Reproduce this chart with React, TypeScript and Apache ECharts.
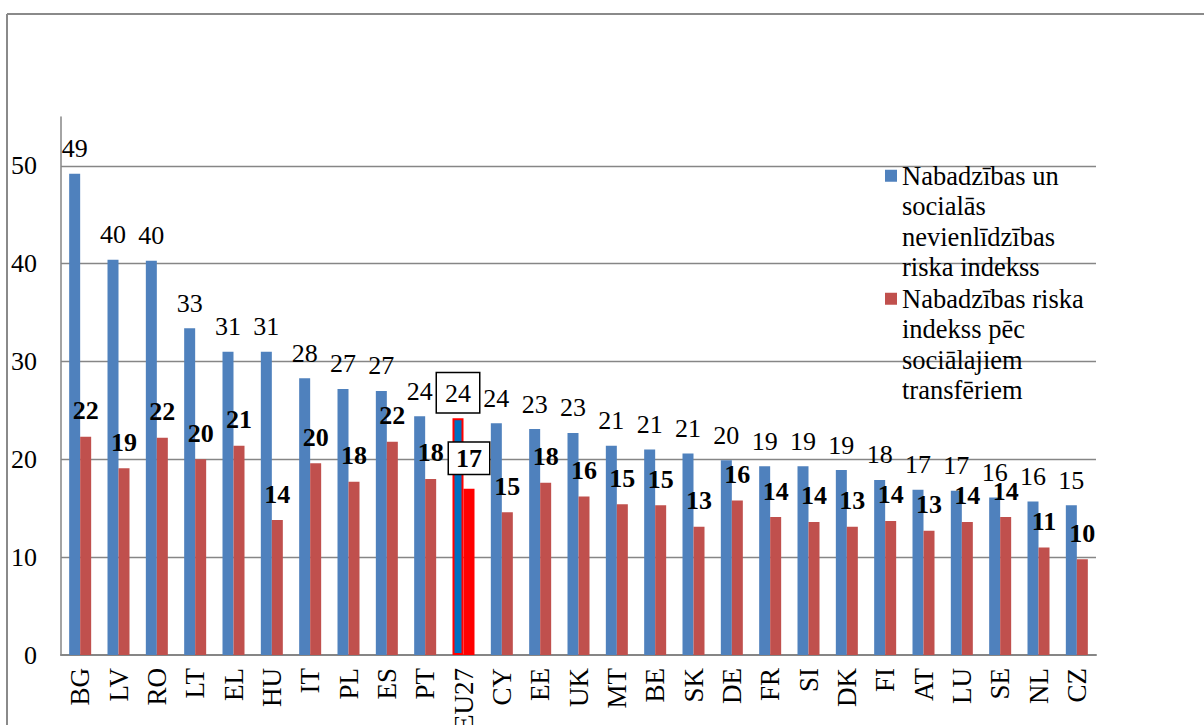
import React, { useEffect, useRef } from "react";
import * as echarts from "echarts";

const categories = ["BG","LV","RO","LT","EL","HU","IT","PL","ES","PT","EU27","CY","EE","UK","MT","BE","SK","DE","FR","SI","DK","FI","AT","LU","SE","NL","CZ"];
const riskExclusion = [49.2,40.4,40.3,33.4,31.0,31.0,28.3,27.2,27.0,24.4,24.2,23.7,23.1,22.7,21.4,21.0,20.6,19.9,19.3,19.3,18.9,17.9,16.9,16.8,16.1,15.7,15.3];
const povertyAfterTransfers = [22.3,19.1,22.2,20.0,21.4,13.8,19.6,17.7,21.8,18.0,17.0,14.6,17.6,16.2,15.4,15.3,13.1,15.8,14.1,13.6,13.1,13.7,12.7,13.6,14.1,11.0,9.8];
const seriesNames = [
  "Nabadzības un\nsocialās\nnevienlīdzības\nriska indekss",
  "Nabadzības riska\nindekss pēc\nsociālajiem\ntransfēriem",
];
const highlight = "EU27";

const FONT = "'Liberation Serif', 'Times New Roman', serif";
const BLUE = "#4F81BD";
const RED = "#C0504D";
const GRID = "#868686";

export default function App() {
  const ref = useRef<HTMLDivElement>(null);
  useEffect(() => {
    document.body.style.margin = "0";
    const chart = echarts.init(ref.current!, null, { renderer: "svg" });
    const hi = categories.indexOf(highlight);
    const blueData = riskExclusion.map((v, i) =>
      i === hi
        ? {
            value: v,
            itemStyle: { color: "#0070C0", borderColor: "#FF0000", borderWidth: 2 },
            label: {
              distance: 6,
              backgroundColor: "#fff",
              borderColor: "#000",
              borderWidth: 1.5,
              padding: [7, 8, 6, 8],
            },
          }
        : v
    );
    const redData = povertyAfterTransfers.map((v, i) =>
      i === hi
        ? {
            value: v,
            itemStyle: { color: "#FF0000" },
            label: {
              distance: 15,
              backgroundColor: "#fff",
              borderColor: "#000",
              borderWidth: 1.5,
              padding: [3, 7, 2, 7],
            },
          }
        : v
    );
    const legendCommon = {
      orient: "vertical",
      left: 885,
      padding: 0,
      itemWidth: 12,
      itemHeight: 12,
      icon: "rect",
      selectedMode: false,
      formatter: (name: string) => "\n\n\n" + name,
      textStyle: {
        fontFamily: FONT,
        fontSize: 26.5,
        lineHeight: 30.5,
        color: "#000",
      },
    };
    chart.setOption({
      animation: false,
      textStyle: { fontFamily: FONT },
      grid: {
        left: 61,
        right: 108,
        top: 117,
        bottom: 70,
        containLabel: false,
        outerBoundsMode: "none",
      },
      legend: [
        { ...legendCommon, top: 69, data: [seriesNames[0]] },
        { ...legendCommon, top: 192, data: [seriesNames[1]] },
      ],
      xAxis: {
        type: "category",
        data: categories,
        axisLine: { lineStyle: { color: GRID, width: 2 } },
        axisTick: { show: false },
        axisLabel: {
          interval: 0,
          rotate: 90,
          margin: 13,
          fontSize: 27,
          fontFamily: FONT,
          color: "#000",
        },
      },
      yAxis: {
        type: "value",
        min: 0,
        max: 55,
        interval: 10,
        axisLine: { show: true, lineStyle: { color: GRID, width: 1.5 } },
        axisTick: { show: false },
        axisLabel: {
          margin: 24,
          fontSize: 26,
          fontFamily: FONT,
          color: "#000",
          showMaxLabel: false,
        },
        splitLine: {
          show: true,
          showMaxLine: false,
          showMinLine: false,
          lineStyle: { color: GRID, width: 1.3 },
        },
      },
      series: [
        {
          name: seriesNames[0],
          type: "bar",
          data: blueData,
          barWidth: 11,
          barGap: "0%",
          itemStyle: { color: BLUE },
          label: {
            show: true,
            position: "top",
            distance: 12,
            fontSize: 26,
            fontFamily: FONT,
            color: "#000",
            formatter: (p: any) => String(Math.round(p.value)),
          },
        },
        {
          name: seriesNames[1],
          type: "bar",
          data: redData,
          barWidth: 11,
          barGap: "0%",
          itemStyle: { color: RED },
          label: {
            show: true,
            position: "top",
            distance: 13,
            fontSize: 26,
            fontWeight: "bold",
            fontFamily: FONT,
            color: "#000",
            formatter: (p: any) => String(Math.round(p.value)),
          },
        },
      ],
      graphic: [
        { type: "line", shape: { x1: 7, y1: 14, x2: 1204, y2: 14 }, style: { stroke: "#8a8a8a", lineWidth: 2 } },
        { type: "line", shape: { x1: 7, y1: 14, x2: 7, y2: 725 }, style: { stroke: "#8a8a8a", lineWidth: 2 } },
      ],
    });
    return () => chart.dispose();
  }, []);
  return (
    <div
      ref={ref}
      style={{ position: "absolute", left: 0, top: 0, width: 1204, height: 725 }}
    />
  );
}
